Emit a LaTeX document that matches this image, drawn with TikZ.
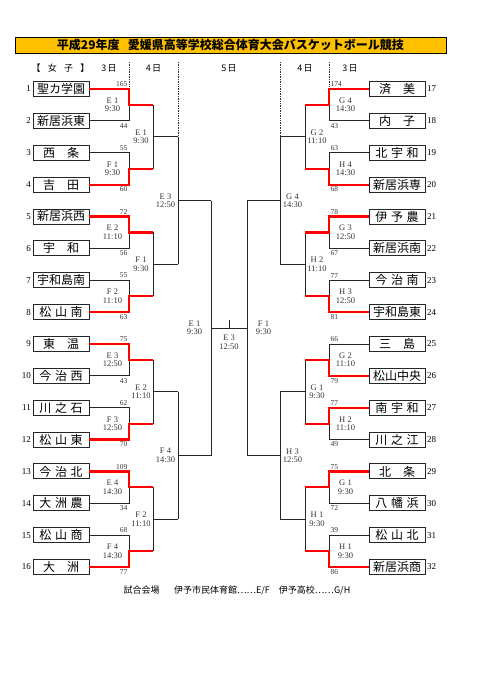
\documentclass[tikz,border=0pt]{standalone}
\usepackage{fontspec}
\setmainfont{Liberation Serif}
\newfontfamily\jp{Noto Sans CJK JP}
\usetikzlibrary{calc}
\definecolor{titleorange}{HTML}{FFC000}
\newcommand\duo[2]{#1\hspace{1em}#2}
\newcommand\trio[3]{#1\hspace{0.3em}#2\hspace{0.3em}#3}
\tikzset{
  teambox/.style={draw=black!85, line width=0.9pt, minimum width=56pt, minimum height=15pt, inner sep=0pt, font=\jp\fontsize{12}{12}\selectfont},
  teamnum/.style={inner sep=0pt, font=\fontsize{9}{9}\selectfont},
  br/.style={line width=0.8pt, draw=black!85},
  win/.style={line width=2.2pt, draw=red},
  lbl/.style={inner sep=0pt, align=center, font=\fontsize{8.5}{8.5}\selectfont, text=black!80},
  sc/.style={inner sep=0pt, font=\fontsize{7.5}{7.5}\selectfont, text=black!80},
  daydots/.style={line width=0.7pt, densely dotted, draw=black!80},
  hdr/.style={inner sep=0pt, font=\jp\fontsize{9}{9}\selectfont},
}
\begin{document}
\begin{tikzpicture}[x=1pt,y=-1pt]
\useasboundingbox (0,0) rectangle (481,680);
% title
\node[draw=black, line width=0.8pt, fill=titleorange, minimum width=431pt, minimum height=16pt, inner sep=0pt,
  font=\jp\bfseries\fontsize{12}{12}\selectfont] (title) at (230.5,45)
  {平成29年度\hspace{0.7em}愛媛県高等学校総合体育大会バスケットボール競技};
% header
\node[hdr] (hgirls) at (60.5,68) {【\hspace{0.8em}女\hspace{0.8em}子\hspace{0.8em}】};
\node[hdr] (hL3) at (109,68) {3\,日};
\node[hdr] (hL4) at (153.5,68) {4\,日};
\node[hdr] (h5) at (229,68) {5\,日};
\node[hdr] (hR4) at (305,68) {4\,日};
\node[hdr] (hR3) at (350,68) {3\,日};
\draw[daydots] (129,62) -- (129,89);
\draw[daydots] (178,62) -- (178,136.8);
\draw[daydots] (280,62) -- (280,136.8);
\draw[daydots] (329,62) -- (329,89);
% teams left
\foreach \n [count=\i] in {聖カ学園,新居浜東,\duo{西}{条},\duo{吉}{田},新居浜西,\duo{宇}{和},宇和島南,\trio{松}{山}{南},\duo{東}{温},\trio{今}{治}{西},\trio{川}{之}{石},\trio{松}{山}{東},\trio{今}{治}{北},\trio{大}{洲}{農},\trio{松}{山}{商},\duo{大}{洲}} {
  \pgfmathsetmacro\yy{89+(\i-1)*31.87}
  \node[teambox] (L\i) at (61,\yy) {\n};
  \node[teamnum, anchor=east] (LN\i) at ([xshift=-1.5pt]L\i.west) {\i};
}
% teams right
\foreach \n [count=\i] in {\duo{済}{美},\duo{内}{子},\trio{北}{宇}{和},新居浜専,\trio{伊}{予}{農},新居浜南,\trio{今}{治}{南},宇和島東,\duo{三}{島},松山中央,\trio{南}{宇}{和},\trio{川}{之}{江},\duo{北}{条},\trio{八}{幡}{浜},\trio{松}{山}{北},新居浜商} {
  \pgfmathsetmacro\yy{89+(\i-1)*31.87}
  \pgfmathtruncatemacro\k{\i+16}
  \node[teambox] (R\i) at (397,\yy) {\n};
  \node[teamnum, anchor=west] (RN\i) at ([xshift=1.5pt]R\i.east) {\k};
}
% round 1 coordinates
\foreach \k in {1,...,8} {
  \pgfmathsetmacro\m{89+(2*\k-1.5)*31.87}
  \coordinate (LM\k) at (129,\m);
  \coordinate (LO\k) at (153,\m);
  \coordinate (RM\k) at (329,\m);
  \coordinate (RO\k) at (305,\m);
}
% round 2
\foreach \j/\code/\tm/\rcode/\rtm in {1/E 1/9:30/G 2/11:10, 2/F 1/9:30/H 2/11:10, 3/E 2/11:10/G 1/9:30, 4/F 2/11:10/H 1/9:30} {
  \pgfmathtruncatemacro\p{2*\j-1}
  \pgfmathtruncatemacro\q{2*\j}
  \pgfmathsetmacro\M{89+(4*\j-2.5)*31.87}
  \coordinate (LP\j) at (153,\M);
  \coordinate (LQ\j) at (178,\M);
  \coordinate (RP\j) at (305,\M);
  \coordinate (RQ\j) at (280,\M);
  \draw[br] (LO\p) -- (LO\q);
  \draw[br] (LP\j) -- (LQ\j);
  \draw[br] (RO\p) -- (RO\q);
  \draw[br] (RP\j) -- (RQ\j);
  \node[lbl] at (141,\M) {\code\\\tm};
  \node[lbl] at (317,\M) {\rcode\\\rtm};
}
% round 3
\foreach \j/\code/\tm/\rcode/\rtm in {1/E 3/12:50/G 4/14:30, 2/F 4/14:30/H 3/12:50} {
  \pgfmathtruncatemacro\p{2*\j-1}
  \pgfmathtruncatemacro\q{2*\j}
  \pgfmathsetmacro\M{89+(8*\j-4.5)*31.87}
  \coordinate (LS\j) at (178,\M);
  \coordinate (LT\j) at (211,\M);
  \coordinate (RS\j) at (280,\M);
  \coordinate (RT\j) at (247,\M);
  \draw[br] (LQ\p) -- (LQ\q);
  \draw[br] (LS\j) -- (LT\j);
  \draw[br] (RQ\p) -- (RQ\q);
  \draw[br] (RS\j) -- (RT\j);
  \node[lbl] at (165.5,\M) {\code\\\tm};
  \node[lbl] at (292.5,\M) {\rcode\\\rtm};
}
% semifinals and final
\coordinate (LF) at (211,328);
\coordinate (RF) at (247,328);
\coordinate (tick) at (229,320);
\draw[br] (LT1) -- (LT2);
\draw[br] (RT1) -- (RT2);
\draw[br] (LF) -- (RF);
\draw[br] (tick) -- (229,328);
\node[lbl] (semiL) at (194.5,328) {E 1\\9:30};
\node[lbl] (semiR) at (263.5,328) {F 1\\9:30};
\node[lbl] (final) at (229,342) {E 3\\12:50};
% round 1 left
\foreach \k/\sa/\sb/\code/\tm in {1/165/44/E 1/9:30, 2/55/60/F 1/9:30, 3/72/56/E 2/11:10, 4/55/63/F 2/11:10, 5/75/43/E 3/12:50, 6/62/70/F 3/12:50, 7/109/34/E 4/14:30, 8/68/77/F 4/14:30} {
  \pgfmathtruncatemacro\a{2*\k-1}
  \pgfmathtruncatemacro\b{2*\k}
  \pgfmathsetmacro\ya{89+(\a-1)*31.87}
  \pgfmathsetmacro\yb{89+(\b-1)*31.87}
  \pgfmathsetmacro\m{89+(2*\k-1.5)*31.87}
  \ifnum\sa>\sb\relax
    \draw[br] (L\b.east) -| (LM\k);
    \draw[win] (L\a.east) -| (LM\k) -- (LO\k);
  \else
    \draw[br] (L\a.east) -| (LM\k);
    \draw[win] (L\b.east) -| (LM\k) -- (LO\k);
  \fi
  \node[sc, anchor=south east] at (127.5,{\ya-2}) {\sa};
  \node[sc, anchor=north east] at (127.5,{\yb+2}) {\sb};
  \node[lbl] at (112.5,\m) {\code\\\tm};
}
% round 1 right
\foreach \k/\sa/\sb/\code/\tm in {1/174/43/G 4/14:30, 2/63/68/H 4/14:30, 3/78/67/G 3/12:50, 4/77/81/H 3/12:50, 5/66/79/G 2/11:10, 6/77/49/H 2/11:10, 7/75/72/G 1/9:30, 8/39/86/H 1/9:30} {
  \pgfmathtruncatemacro\a{2*\k-1}
  \pgfmathtruncatemacro\b{2*\k}
  \pgfmathsetmacro\ya{89+(\a-1)*31.87}
  \pgfmathsetmacro\yb{89+(\b-1)*31.87}
  \pgfmathsetmacro\m{89+(2*\k-1.5)*31.87}
  \ifnum\sa>\sb\relax
    \draw[br] (R\b.west) -| (RM\k);
    \draw[win] (R\a.west) -| (RM\k) -- (RO\k);
  \else
    \draw[br] (R\a.west) -| (RM\k);
    \draw[win] (R\b.west) -| (RM\k) -- (RO\k);
  \fi
  \node[sc, anchor=south west] at (330.5,{\ya-2}) {\sa};
  \node[sc, anchor=north west] at (330.5,{\yb+2}) {\sb};
  \node[lbl] at (345.5,\m) {\code\\\tm};
}
% venue note
\node[inner sep=0pt, font=\jp\fontsize{9}{9}\selectfont] (venue) at (237,590)
  {試合会場\hspace{1.6em}伊予市民体育館……E/F\hspace{1em}伊予高校……G/H};
\end{tikzpicture}
\end{document}
